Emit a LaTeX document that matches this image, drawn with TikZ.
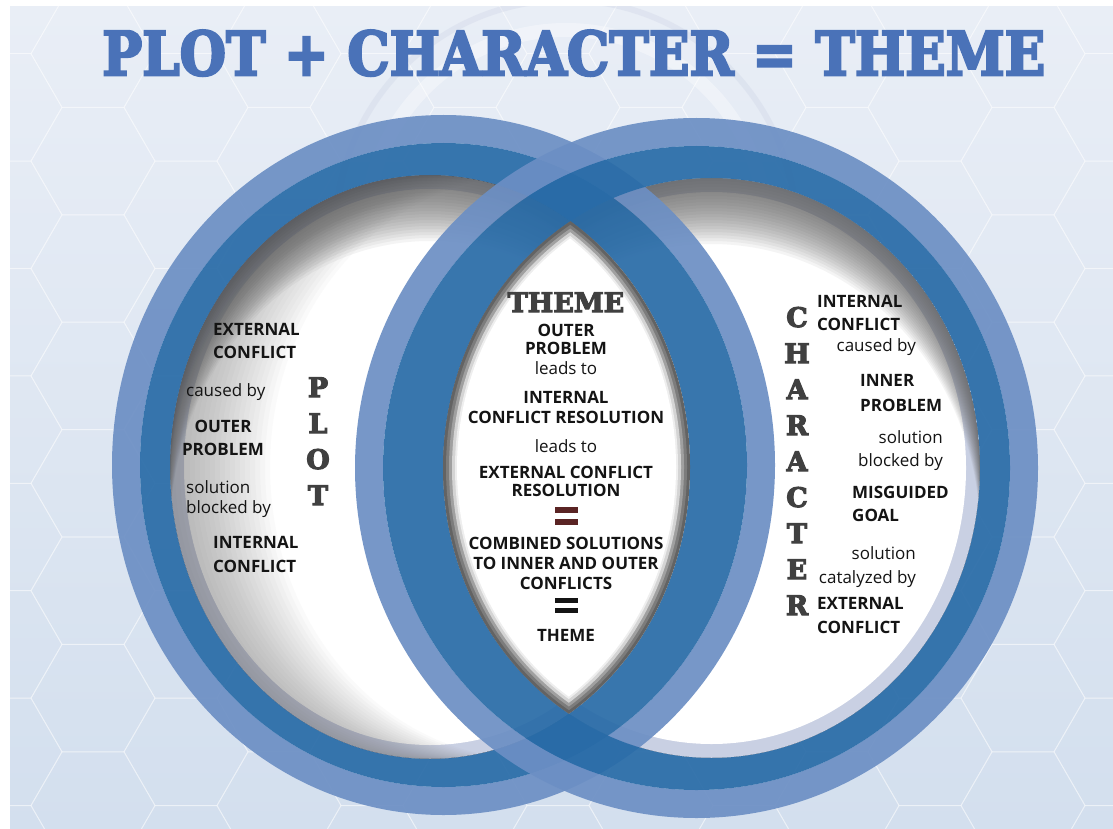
\documentclass[tikz,border=0pt]{standalone}
\usepackage{fontspec}
\setmainfont{Open Sans}
\newfontfamily\slabfont{DejaVu Serif}[BoldFeatures={FakeBold=4}]
\definecolor{bgtop}{HTML}{E9EEF6}
\definecolor{bgbot}{HTML}{D3DFEE}
\definecolor{ringlight}{HTML}{6C8FC4}
\definecolor{ringdark}{HTML}{286BA7}
\definecolor{pale}{HTML}{C9D0E3}
\definecolor{gA}{HTML}{D4D4D4}
\definecolor{gB}{HTML}{A0A0A0}
\definecolor{gC}{HTML}{7C7C7C}
\definecolor{shadegray}{HTML}{5E5E5E}
\definecolor{titleblue}{HTML}{4A72B8}
\definecolor{slabgray}{HTML}{404040}
\definecolor{txt}{HTML}{141414}
\definecolor{eqmaroon}{HTML}{5A2424}
% outer ellipses
\def\LOX{443.5}\def\LOY{465}\def\LRX{331.5}\def\LRY{350}
\def\ROX{696.5}\def\ROY{468}\def\RRX{341.5}\def\RRY{350}
% inner ellipses (edge of dark band)
\def\LIX{430}\def\LIY{467}\def\LIA{260}\def\LIB{292}
\def\RIX{711.5}\def\RIY{468}\def\RIA{268.5}\def\RIB{290}
\newcommand\lenslayer[2]{%
  \begin{scope}
    \clip (Li) ellipse [x radius=\LIA-#1, y radius=\LIB-#1];
    \fill[#2] (Ri) ellipse [x radius=\RIA-#1, y radius=\RIB-#1];
  \end{scope}}
% #1 centre name, #2 cx, #3 cy, #4 a, #5 b
\newcommand\circleinterior[5]{%
  \fill[pale] (#1) ellipse [x radius=#4, y radius=#5];
  \fill[white] (#1) ellipse [x radius=#4-14, y radius=#5-14];
  \begin{scope}
    \clip (#1) ellipse [x radius=#4, y radius=#5];
    \foreach \s in {3,6,...,66}{
      \fill[shadegray, fill opacity=0.065, even odd rule]
        (#2,#3) ellipse [x radius=#4, y radius=#5]
        (#2,#3+\s) ellipse [x radius=#4, y radius=#5];
    }
  \end{scope}}
\tikzset{
  boldtxt/.style={inner sep=0, font=\fontsize{17}{19}\selectfont\bfseries, text=txt},
  regtxt/.style={inner sep=0, font=\fontsize{17}{19}\selectfont, text=txt},
  slabtxt/.style={inner sep=0, font=\fontsize{27}{30}\slabfont\bfseries, text=slabgray},
  lightband/.style={draw=ringlight, line width=28pt, draw opacity=0.92},
  darkband/.style={fill=ringdark, fill opacity=0.92, even odd rule},
  hexline/.style={draw=white, line width=1pt, draw opacity=0.35},
}
\begin{document}
\begin{tikzpicture}[x=1pt,y=-1pt]
\useasboundingbox (0,0) rectangle (1113,829);
\fill[white] (0,0) rectangle (1113,829);
\shade[top color=bgtop, bottom color=bgbot] (10,7) rectangle (1113,829);
% hexagon texture
\begin{scope}
  \clip (10,7) rectangle (1113,829);
  \foreach \i in {0,...,13}{
    \foreach \j in {0,...,8}{
      \pgfmathsetmacro\hx{\i*93}
      \pgfmathsetmacro\hy{\j*107.4+mod(\i,2)*53.7}
      \draw[hexline] (\hx,\hy) +(0:62) -- +(60:62) -- +(120:62) -- +(180:62) -- +(240:62) -- +(300:62) -- cycle;
    }
  }
  \draw[draw=white, line width=14pt, draw opacity=0.35] (566,230) circle [radius=200];
  \draw[draw=pale, line width=6pt, draw opacity=0.3] (566,230) circle [radius=230];
\end{scope}
% title
\node[anchor=north west, inner sep=0, text=titleblue] (title) at (102,30)
  {\resizebox{943pt}{45pt}{\slabfont\bfseries PLOT + CHARACTER = THEME}};
% centres
\coordinate (Lo) at (\LOX,\LOY);
\coordinate (Ro) at (\ROX,\ROY);
\coordinate (Li) at (\LIX,\LIY);
\coordinate (Ri) at (\RIX,\RIY);
% interiors
\circleinterior{Li}{\LIX}{\LIY}{\LIA}{\LIB}
\begin{scope}
  \clip (Li) ellipse [x radius=\LIA, y radius=\LIB];
  \foreach \s in {5,10,...,100}{
    \fill[shadegray, fill opacity=0.028, even odd rule]
      (\LIX,\LIY) ellipse [x radius=\LIA, y radius=\LIB]
      (\LIX+\s,\LIY) ellipse [x radius=\LIA, y radius=\LIB];
  }
\end{scope}
\circleinterior{Ri}{\RIX}{\RIY}{\RIA}{\RIB}
% rings
\draw[lightband] (Lo) ellipse [x radius=\LRX-14, y radius=\LRY-14];
\fill[darkband] (Lo) ellipse [x radius=\LRX-28, y radius=\LRY-28]
                (Li) ellipse [x radius=\LIA, y radius=\LIB];
\draw[lightband] (Ro) ellipse [x radius=\RRX-14, y radius=\RRY-14];
\fill[darkband] (Ro) ellipse [x radius=\RRX-28, y radius=\RRY-28]
                (Ri) ellipse [x radius=\RIA, y radius=\RIB];
% lens
\lenslayer{0}{gC!80!black}
\lenslayer{3}{gC}
\lenslayer{6}{gB}
\lenslayer{9}{gA}
\lenslayer{12}{gA!40}
\lenslayer{14}{white}
% left texts
\node[boldtxt, anchor=base west] (l1) at (213,335) {EXTERNAL};
\node[boldtxt, anchor=base west] (l2) at (213,358) {CONFLICT};
\node[regtxt, anchor=base west] (l3) at (186,396) {caused by};
\node[boldtxt, anchor=base] (l4) at (223,432) {OUTER};
\node[boldtxt, anchor=base] (l5) at (223,455) {PROBLEM};
\node[regtxt, anchor=base west] (l6) at (186,493) {solution};
\node[regtxt, anchor=base west] (l7) at (186,513) {blocked by};
\node[boldtxt, anchor=base west] (l8) at (213,548) {INTERNAL};
\node[boldtxt, anchor=base west] (l9) at (213,572) {CONFLICT};
% PLOT
\node[slabtxt, anchor=base] (p1) at (318,397) {P};
\node[slabtxt, anchor=base] (p2) at (318,433) {L};
\node[slabtxt, anchor=base] (p3) at (318,469) {O};
\node[slabtxt, anchor=base] (p4) at (318,505) {T};
% CHARACTER
\foreach \ch [count=\k from 0] in {C,H,A,R,A,C,T,E,R}{
  \node[slabtxt, anchor=base] (c\k) at (797,327+36*\k) {\ch};
}
% right texts
\node[boldtxt, anchor=base west] (r1) at (817,307) {INTERNAL};
\node[boldtxt, anchor=base west] (r2) at (817,330) {CONFLICT};
\node[regtxt, anchor=base east] (r3) at (916,351) {caused by};
\node[boldtxt, anchor=base west] (r4) at (860,386) {INNER};
\node[boldtxt, anchor=base west] (r5) at (860,411) {PROBLEM};
\node[regtxt, anchor=base east] (r6) at (943,443) {solution};
\node[regtxt, anchor=base east] (r7) at (943,466) {blocked by};
\node[boldtxt, anchor=base west] (r8) at (852,498) {MISGUIDED};
\node[boldtxt, anchor=base west] (r9) at (852,521) {GOAL};
\node[regtxt, anchor=base east] (r10) at (916,559) {solution};
\node[regtxt, anchor=base east] (r11) at (916,583) {catalyzed by};
\node[boldtxt, anchor=base west] (r12) at (817,609) {EXTERNAL};
\node[boldtxt, anchor=base west] (r13) at (817,633) {CONFLICT};
% centre texts
\node[slabtxt, anchor=base] (m0) at (566,312) {THEME};
\node[boldtxt, anchor=base] (m1) at (566,336) {OUTER};
\node[boldtxt, anchor=base] (m2) at (566,354) {PROBLEM};
\node[regtxt, anchor=base] (m3) at (566,374) {leads to};
\node[boldtxt, anchor=base] (m4) at (566,403) {INTERNAL};
\node[boldtxt, anchor=base] (m5) at (566,423) {CONFLICT RESOLUTION};
\node[regtxt, anchor=base] (m6) at (566,452) {leads to};
\node[boldtxt, anchor=base] (m7) at (566,478) {EXTERNAL CONFLICT};
\node[boldtxt, anchor=base] (m8) at (566,496) {RESOLUTION};
\fill[eqmaroon] (555,507) rectangle (578,513);
\fill[eqmaroon] (555,519) rectangle (578,525);
\node[boldtxt, anchor=base] (m9) at (566,549) {COMBINED SOLUTIONS};
\node[boldtxt, anchor=base] (m10) at (566,569) {TO INNER AND OUTER};
\node[boldtxt, anchor=base] (m11) at (566,589) {CONFLICTS};
\fill[txt] (555,598) rectangle (578,603);
\fill[txt] (555,608) rectangle (578,613);
\node[boldtxt, anchor=base] (m12) at (566,641) {THEME};
\end{tikzpicture}
\end{document}
